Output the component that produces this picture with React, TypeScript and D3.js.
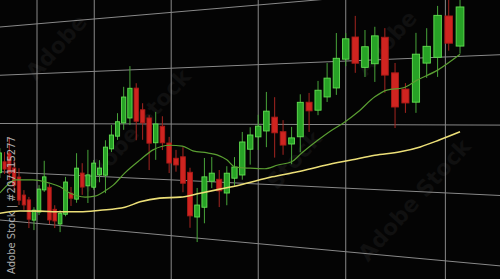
import React from 'react';
import * as d3 from 'd3';

const W = 500;
const H = 279;

// Candles (oldest -> newest), price units
const candleOpen = [109.8, 112.1, 113.9, 110.9, 109.1, 105.5, 104.6, 100.6, 102.3, 106.8, 107.4, 103.1, 100.3, 102.3, 106.5, 105.4, 110.5, 108.1, 107.9, 110.3, 110.3, 115.3, 117.7, 120.2, 121.1, 126.6, 122.6, 121.1, 116.6, 119.6, 116.6, 113.9, 114.2, 111.5, 103.7, 105.5, 110.1, 110.5, 108.2, 110.8, 111.4, 115.8, 117.9, 118.9, 121.2, 118.8, 116.8, 118.0, 123.6, 122.3, 124.4, 125.8, 130.3, 133.7, 128.9, 129.4, 133.4, 127.9, 125.4, 123.4, 129.2, 130.0, 136.0, 131.5];
const candleClose = [113.9, 110.6, 109.8, 107.4, 104.4, 103.5, 100.7, 102.6, 106.9, 109.4, 100.9, 100.8, 102.4, 108.6, 105.5, 111.4, 107.8, 110.2, 112.5, 111.6, 115.6, 117.9, 120.4, 125.0, 126.6, 120.5, 120.2, 116.5, 120.0, 116.6, 113.0, 112.7, 109.5, 103.8, 105.8, 110.8, 111.5, 108.5, 111.6, 112.7, 117.0, 118.2, 119.7, 122.2, 118.6, 116.6, 117.8, 123.6, 122.2, 125.5, 127.4, 130.5, 133.5, 129.6, 132.1, 133.7, 127.6, 122.7, 123.3, 130.6, 131.7, 136.2, 132.0, 137.2];
const candleHigh = [114.9, 114.1, 117.2, 112.5, 110.9, 106.5, 105.2, 103.2, 107.7, 112.6, 108.0, 103.9, 103.0, 109.6, 107.7, 114.3, 112.4, 115.0, 113.1, 113.1, 116.9, 119.8, 122.0, 126.9, 130.7, 127.5, 123.8, 121.6, 122.2, 121.4, 117.7, 115.4, 115.9, 112.3, 108.8, 114.1, 114.3, 112.1, 112.8, 114.4, 118.7, 119.5, 121.6, 125.4, 124.5, 120.7, 119.6, 124.9, 125.1, 127.0, 129.8, 134.5, 134.4, 137.0, 134.7, 135.1, 134.8, 129.4, 126.3, 133.8, 134.4, 137.6, 139.1, 138.9];
const candleLow = [108.7, 109.6, 108.4, 106.4, 103.4, 102.5, 98.9, 98.6, 101.7, 106.4, 100.1, 99.4, 98.7, 101.9, 104.0, 104.7, 106.3, 104.8, 107.4, 108.9, 106.9, 114.7, 117.0, 118.9, 119.8, 117.0, 117.1, 111.6, 113.5, 115.3, 111.2, 111.5, 107.9, 101.7, 99.3, 102.7, 108.9, 105.7, 106.1, 109.5, 110.6, 113.2, 115.7, 116.2, 114.5, 115.0, 113.5, 115.5, 118.8, 121.5, 123.6, 124.7, 129.2, 128.1, 127.4, 126.6, 124.9, 119.5, 121.8, 121.8, 127.0, 127.1, 130.9, 130.4];

// Fast moving average (green), read at candle positions
const maFastIdx = [0, 2.1, 3.2, 6.8, 10.1, 12.0, 13.8, 16.5, 18.2, 19.9, 21.3, 23.2, 25.6, 27.6, 30.1, 31.9, 33.4, 35.4, 36.7, 38.0, 39.1, 41.0, 42.8, 44.4, 46.0, 47.2, 49.0, 50.5, 51.9, 53.3, 55.0, 56.2, 57.8, 59.1, 61.0, 63];
const maFastVal = [105.6, 107.8, 108.5, 108.7, 108.2, 107.6, 106.5, 105.9, 106.2, 107.3, 108.5, 110.9, 113.4, 115.3, 116.2, 116.1, 115.3, 115.0, 114.7, 113.9, 112.7, 112.6, 112.6, 113.3, 113.9, 115.4, 117.5, 119.1, 120.4, 122.0, 124.3, 125.3, 125.6, 126.7, 128.1, 130.3];

// Slow moving average (yellow)
const maSlowIdx = [0, 4.2, 8.2, 12.0, 15.6, 19.1, 23.2, 25.6, 28.6, 31.6, 34.4, 37.1, 39.7, 43.7, 46.7, 49.8, 52.7, 55.0, 57.5, 59.4, 61.2, 63];
const maSlowVal = [101.4, 102.2, 102.5, 102.7, 103.0, 103.6, 104.5, 105.7, 106.6, 107.0, 107.9, 108.8, 109.7, 111.3, 112.3, 113.5, 114.5, 115.3, 115.9, 116.7, 117.8, 119.0];

// Grid
const priceGrid = [100, 110, 120, 130, 140];
const timeGrid = [7.6, 18.1, 30.3, 42.0, 52.0, 61.7];

// Watermark texts
const watermarkText = ['Adobe', 'Adobe Stock', 'Stock', 'Adobe', 'Adobe Stock'];
const idText = 'Adobe Stock | #207115277';

// Perspective parameters
const VPX = -1090;
const HORIZON = 120;

const tScale = d3.scaleLinear().domain([0, 63]).range([0, 1]);
const yScale = d3.scaleLinear().domain([100, 140]).range([220, 27]);

function xOf(u: number): number {
  const t = tScale(u);
  return (294.65 * t - 0.142) / (1 - 0.3598 * t);
}
function yAt(x: number, p: number): number {
  const s = (x - VPX) / -VPX;
  return HORIZON + (yScale(p) - HORIZON) * s;
}
function project(u: number, p: number): [number, number] {
  const x = xOf(u);
  return [x, yAt(x, p)];
}

const GREEN_FILL = '#27a226';
const GREEN_EDGE = '#62e052';
const GREEN_WICK = '#48a43a';
const RED_FILL = '#cf2420';
const RED_EDGE = '#a91b18';
const RED_WICK = '#a52520';

export default function App() {
  const line = d3.line<[number, number]>().curve(d3.curveMonotoneX);
  const fastPts = maFastIdx.map((u, i) => project(u, maFastVal[i]));
  const slowPts = maSlowIdx.map((u, i) => project(u, maSlowVal[i]));

  const wmPos = [
    { x: 62, y: 52 },
    { x: 140, y: 135 },
    { x: 300, y: 165 },
    { x: 392, y: 48 },
    { x: 420, y: 205 },
  ];

  return (
    <div style={{ position: 'absolute', left: 0, top: 0, width: W, height: H }}>
      <svg width={W} height={H} viewBox={`0 0 ${W} ${H}`} style={{ display: 'block' }}>
        <rect x={0} y={0} width={W} height={H} fill="#040404" />
        <g fontFamily="DejaVu Sans, sans-serif" fontWeight="bold" fontSize={22} fill="#101010">
          {watermarkText.map((t, i) => (
            <text key={i} x={wmPos[i].x} y={wmPos[i].y} textAnchor="middle" transform={`rotate(-48 ${wmPos[i].x} ${wmPos[i].y})`}>{t}</text>
          ))}
        </g>
        <g stroke="#a0a0a0" strokeWidth={1} opacity={0.85}>
          {priceGrid.map((p) => (
            <line key={'h' + p} x1={-5} x2={W + 5} y1={yAt(-5, p)} y2={yAt(W + 5, p)} />
          ))}
          {timeGrid.map((u) => (
            <line key={'v' + u} x1={xOf(u)} x2={xOf(u)} y1={0} y2={H} />
          ))}
        </g>
        <g>
          {candleOpen.map((o, i) => {
            const c = candleClose[i];
            const up = c >= o;
            const x = xOf(i);
            const hw = (xOf(i + 0.34) - xOf(i - 0.34)) / 2;
            const yH = yAt(x, candleHigh[i]);
            const yL = yAt(x, candleLow[i]);
            const yTop = yAt(x, Math.max(o, c));
            const yBot = yAt(x, Math.min(o, c));
            return (
              <g key={i}>
                <line x1={x} x2={x} y1={yH} y2={yL} stroke={up ? GREEN_WICK : RED_WICK} strokeWidth={1} />
                <rect
                  x={x - hw}
                  y={yTop}
                  width={hw * 2}
                  height={Math.max(1, yBot - yTop)}
                  fill={up ? GREEN_FILL : RED_FILL}
                  stroke={up ? GREEN_EDGE : RED_EDGE}
                  strokeWidth={0.9}
                />
              </g>
            );
          })}
        </g>
        <path d={line(slowPts) || ''} fill="none" stroke="#ecdf78" strokeWidth={1.6} />
        <path d={line(fastPts) || ''} fill="none" stroke="#5a9e32" strokeWidth={1.2} />
        <text
          x={15}
          y={274}
          transform="rotate(-90 15 274)"
          fontFamily="DejaVu Sans, sans-serif"
          fontSize={10}
          fill="#c8c8c8"
          opacity={0.85}
        >
          {idText}
        </text>
      </svg>
    </div>
  );
}
